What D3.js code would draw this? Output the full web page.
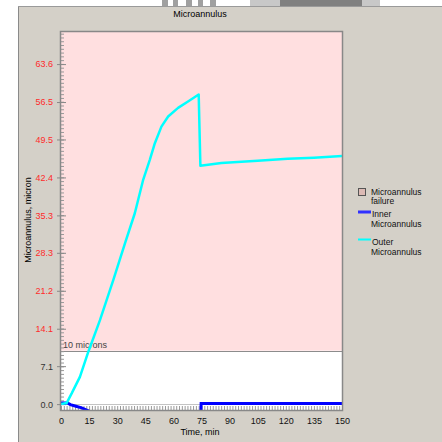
<!DOCTYPE html>
<html>
<head>
<meta charset="utf-8">
<script src="https://cdn.jsdelivr.net/npm/d3@7"></script>
<style>
  body { margin: 0; background: #fff; }
  svg { display: block; font-family: "Liberation Sans", Arial, sans-serif; }
</style>
</head>
<body>
<div id="chart"></div>
<script>
// values
const outerTime = [0, 3, 5.7, 10.1, 14.6, 20.8, 27.9, 34.1, 39.4, 43.9, 47.4, 50.1, 53.6, 57.2, 62.5, 67.8, 73.5, 74.4, 85.6, 105, 121, 135, 150];
const outerVals = [0, 0.2, 2.0, 5.1, 9.8, 15.7, 23.2, 30.0, 35.7, 42.0, 45.7, 48.8, 51.9, 53.8, 55.4, 56.6, 57.9, 44.6, 45.1, 45.5, 45.9, 46.1, 46.4];
const innerTime = [0, 3.5, 5, 8, 11, 15, 20, 74.6, 74.8, 150];
const innerVals = [0.2, 0.2, -0.1, -0.4, -0.7, -1.3, -2.0, -3.0, 0.1, 0.1];
const yTicks = [0.0, 7.1, 14.1, 21.2, 28.3, 35.3, 42.4, 49.5, 56.5, 63.6];
const xTicks = [0, 15, 30, 45, 60, 75, 90, 105, 120, 135, 150];
const failureLimit = 10;

const W = 442, H = 442;
const plot = { left: 61, right: 342, top: 32, bottom: 410 };

const svg = d3.select('#chart').append('svg')
    .attr('width', W)
    .attr('height', H);

// gray window panel
svg.append('rect').attr('x', 0).attr('y', 0).attr('width', W).attr('height', H).attr('fill', '#fff');
svg.append('rect').attr('x', 18).attr('y', 6).attr('width', W - 18).attr('height', H - 6)
    .attr('fill', '#d4d0c8');
svg.append('line').attr('x1', 18.5).attr('x2', 18.5).attr('y1', 6).attr('y2', H).attr('stroke', '#8a8a8a');
svg.append('line').attr('x1', 18).attr('x2', W).attr('y1', 6.5).attr('y2', 6.5).attr('stroke', '#9a9a9a');
// bits of the page behind, above the panel
const bg = svg.append('g');
[[162, 6], [173, 5], [186, 6], [198, 5], [210, 6]].forEach(d => {
    bg.append('rect').attr('x', d[0]).attr('y', 0).attr('width', d[1]).attr('height', 6).attr('fill', '#a0a0a0');
});
bg.append('rect').attr('x', 250).attr('y', 0).attr('width', 130).attr('height', 6).attr('fill', '#c8c8c8');
bg.append('rect').attr('x', 280).attr('y', 0).attr('width', 82).attr('height', 6).attr('fill', '#808080');

const x = d3.scaleLinear().domain([0, 150]).range([plot.left, plot.right]);
const y = d3.scaleLinear().domain([-1.1, 69.6]).range([plot.bottom, plot.top]);

// title
svg.append('text').attr('x', 200).attr('y', 17).attr('text-anchor', 'middle')
    .attr('font-size', 9).attr('fill', '#000').text('Microannulus');

// plot background: white below the limit, pink above
svg.append('rect').attr('x', plot.left).attr('y', plot.top)
    .attr('width', plot.right - plot.left).attr('height', plot.bottom - plot.top).attr('fill', '#fff');
svg.append('rect').attr('x', plot.left).attr('y', plot.top)
    .attr('width', plot.right - plot.left).attr('height', y(failureLimit) - plot.top).attr('fill', '#ffdfe0');

svg.append('defs').append('clipPath').attr('id', 'clip')
    .append('rect').attr('x', plot.left).attr('y', plot.top)
    .attr('width', plot.right - plot.left).attr('height', plot.bottom - plot.top);

// zero line
svg.append('line').attr('x1', plot.left).attr('x2', plot.right)
    .attr('y1', Math.round(y(0)) + 0.5).attr('y2', Math.round(y(0)) + 0.5)
    .attr('stroke', '#c4c4c4');

// limit line + label
svg.append('line').attr('x1', plot.left).attr('x2', plot.right)
    .attr('y1', Math.round(y(failureLimit)) + 0.5).attr('y2', Math.round(y(failureLimit)) + 0.5)
    .attr('stroke', '#8c8c8c').attr('stroke-width', 1.2);
svg.append('text').attr('x', plot.left + 2).attr('y', y(failureLimit) - 2.5)
    .attr('font-size', 9).attr('fill', '#444').text('10 microns');

// y axis: major ticks outside with labels, minor ticks inside
const yMinor = d3.range(0, 69.6, 0.707);
const yOut = svg.append('g').attr('transform', `translate(${plot.left},0)`)
    .call(d3.axisLeft(y).tickValues(yTicks).tickSize(4).tickPadding(4).tickFormat(d3.format('.1f')));
yOut.select('.domain').remove();
yOut.selectAll('line').attr('stroke', '#888');
yOut.selectAll('text').attr('font-size', 9).attr('font-family', '"Liberation Sans", Arial, sans-serif')
    .attr('fill', d => d >= failureLimit ? '#ff2a2a' : '#333');
const yIn = svg.append('g').attr('transform', `translate(${plot.left},0)`)
    .call(d3.axisRight(y).tickValues(yMinor).tickSize(3).tickFormat(''));
yIn.select('.domain').remove();
yIn.selectAll('line').attr('stroke', '#999');
const yInMajor = svg.append('g').attr('transform', `translate(${plot.left},0)`)
    .call(d3.axisRight(y).tickValues(yTicks).tickSize(5).tickFormat(''));
yInMajor.select('.domain').remove();
yInMajor.selectAll('line').attr('stroke', '#888');

// x axis: ticks inside the bottom edge, labels below
const xMinor = d3.range(0, 150.1, 1.5);
const xIn = svg.append('g').attr('transform', `translate(0,${plot.bottom})`)
    .call(d3.axisTop(x).tickValues(xMinor).tickSize(4).tickFormat(''));
xIn.select('.domain').remove();
xIn.selectAll('line').attr('stroke', '#999');
const xLab = svg.append('g').attr('transform', `translate(0,${plot.bottom})`)
    .call(d3.axisBottom(x).tickValues(xTicks).tickSize(0).tickPadding(8));
xLab.select('.domain').remove();
xLab.selectAll('text').attr('font-size', 9).attr('font-family', '"Liberation Sans", Arial, sans-serif').attr('fill', '#111');

// series
const line = d3.line().x(d => x(d[0])).y(d => y(d[1]));
const series = svg.append('g').attr('clip-path', 'url(#clip)');
series.append('path')
    .datum(innerTime.map((t, i) => [t, innerVals[i]]))
    .attr('d', line).attr('fill', 'none').attr('stroke', '#0000ff').attr('stroke-width', 3);
series.append('path')
    .datum(outerTime.map((t, i) => [t, outerVals[i]]))
    .attr('d', line).attr('fill', 'none').attr('stroke', '#00ffff').attr('stroke-width', 2.5)
    .attr('stroke-linejoin', 'round');

// plot border
svg.append('rect').attr('x', plot.left - 0.5).attr('y', plot.top - 0.5)
    .attr('width', plot.right - plot.left + 1).attr('height', plot.bottom - plot.top + 1)
    .attr('fill', 'none').attr('stroke', '#888').attr('stroke-width', 1.5);

// axis titles
svg.append('text').attr('transform', 'translate(31,220) rotate(-90)').attr('text-anchor', 'middle')
    .attr('font-size', 9).attr('fill', '#000').text('Microannulus, micron');
svg.append('text').attr('x', 200).attr('y', 435).attr('text-anchor', 'middle')
    .attr('font-size', 9).attr('fill', '#000').text('Time, min');

// legend
const lg = svg.append('g').attr('font-size', 8.5).attr('fill', '#111');
lg.append('rect').attr('x', 358.5).attr('y', 188.5).attr('width', 7).attr('height', 7)
    .attr('fill', '#dcbab5').attr('stroke', '#555');
lg.append('text').attr('x', 371).attr('y', 195).text('Microannulus');
lg.append('text').attr('x', 371).attr('y', 204).text('failure');
lg.append('line').attr('x1', 358).attr('x2', 371).attr('y1', 212).attr('y2', 212)
    .attr('stroke', '#3030ff').attr('stroke-width', 3);
lg.append('text').attr('x', 372).attr('y', 217).text('Inner');
lg.append('text').attr('x', 371).attr('y', 227).text('Microannulus');
lg.append('line').attr('x1', 358).attr('x2', 371).attr('y1', 239.5).attr('y2', 239.5)
    .attr('stroke', '#00ffff').attr('stroke-width', 2);
lg.append('text').attr('x', 372).attr('y', 245).text('Outer');
lg.append('text').attr('x', 371).attr('y', 255).text('Microannulus');
</script>
</body>
</html>
